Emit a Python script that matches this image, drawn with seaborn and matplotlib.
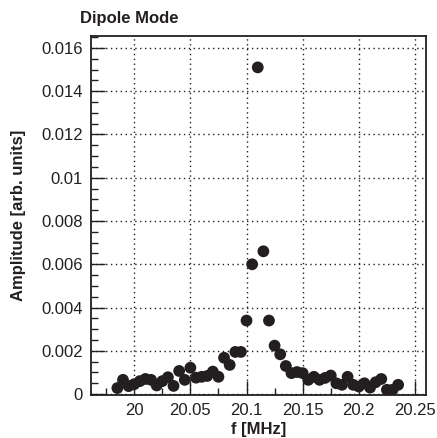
import numpy as np
import pandas as pd
import matplotlib
matplotlib.use("Agg")
import matplotlib.pyplot as plt
import seaborn as sns
from matplotlib.ticker import MultipleLocator, FuncFormatter

freq = [19.985, 19.990, 19.995, 20.000, 20.005, 20.010, 20.015, 20.020, 20.025, 20.030,
        20.035, 20.040, 20.045, 20.050, 20.055, 20.060, 20.065, 20.070, 20.075, 20.080,
        20.085, 20.090, 20.095, 20.100, 20.105, 20.110, 20.115, 20.120, 20.125, 20.130,
        20.135, 20.140, 20.145, 20.150, 20.155, 20.160, 20.165, 20.170, 20.175, 20.180,
        20.185, 20.190, 20.195, 20.200, 20.205, 20.210, 20.215, 20.220, 20.225, 20.230,
        20.235]
amplitude = [0.00028, 0.00066, 0.00037, 0.00046, 0.00060, 0.00070, 0.00066, 0.00040, 0.00060, 0.00078,
             0.00038, 0.00107, 0.00066, 0.00122, 0.00076, 0.00080, 0.00084, 0.00104, 0.00080, 0.00168,
             0.00135, 0.00195, 0.00195, 0.00340, 0.00600, 0.01510, 0.00660, 0.00340, 0.00224, 0.00184,
             0.00130, 0.00097, 0.00102, 0.00097, 0.00066, 0.00080, 0.00066, 0.00075, 0.00086, 0.00050,
             0.00043, 0.00080, 0.00043, 0.00035, 0.00050, 0.00030, 0.00055, 0.00070, 0.00020, 0.00020,
             0.00043]

title = "Dipole Mode"
xlabel = "f [MHz]"
ylabel = "Amplitude [arb. units]"

sns.set_theme(style="white")
plt.rcParams['font.family'] = ['Liberation Sans', 'DejaVu Sans']

df = pd.DataFrame({"f": freq, "A": amplitude})

fig = plt.figure(figsize=(4.37, 4.38), dpi=100)
ax = fig.add_axes([0.2082, 0.0982, 0.7666, 0.8196])
sns.scatterplot(data=df, x="f", y="A", ax=ax, s=72, color="#231f20",
                edgecolor="none", linewidth=0, zorder=3)

ax.set_xlim(19.9615, 20.2598)
ax.set_ylim(-0.00004, 0.01655)

ax.xaxis.set_major_locator(MultipleLocator(0.05))
ax.xaxis.set_minor_locator(MultipleLocator(0.025))
ax.yaxis.set_major_locator(MultipleLocator(0.002))
ax.yaxis.set_minor_locator(MultipleLocator(0.0005))
ax.xaxis.set_major_formatter(FuncFormatter(lambda v, p: ("%.2f" % v).rstrip('0').rstrip('.')))
ax.yaxis.set_major_formatter(FuncFormatter(lambda v, p: "0" if abs(v) < 1e-9 else ("%.3f" % v).rstrip('0').rstrip('.')))

ax.tick_params(axis='both', which='major', direction='in', length=10, width=1.0,
               colors='#231f20', labelsize=12, labelcolor='#231f20', pad=6,
               bottom=True, left=True, top=False, right=False)
ax.tick_params(axis='both', which='minor', direction='in', length=5, width=1.0,
               colors='#231f20', bottom=True, left=True, top=False, right=False)

ax.grid(True, which='major', linestyle=(0, (1, 2.5)), color='#231f20', linewidth=1.0)
for sp in ax.spines.values():
    sp.set_color('#231f20')
    sp.set_linewidth(1.3)

ax.set_xlabel(xlabel, fontsize=12, fontweight='bold', color='#231f20', labelpad=3)
ax.set_ylabel(ylabel, fontsize=12, fontweight='bold', color='#231f20', labelpad=11)
fig.text(0.183, 0.958, title, fontsize=12, fontweight='bold', color='#231f20',
         ha='left', va='center')

fig.savefig("out.png", dpi=100)
